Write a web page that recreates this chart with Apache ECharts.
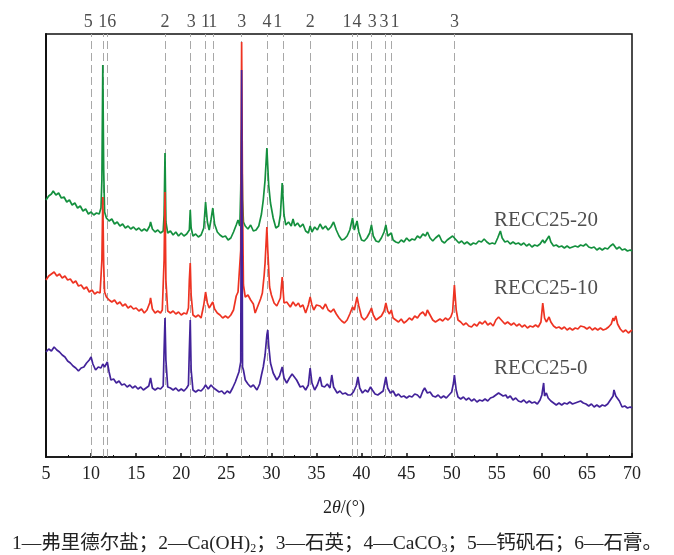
<!DOCTYPE html>
<html><head><meta charset="utf-8">
<script src="https://cdn.jsdelivr.net/npm/echarts@6/dist/echarts.min.js"></script>
<style>html,body{margin:0;padding:0;background:#fff}#c{width:674px;height:555px}</style>
</head><body><div id="c"></div>
<script>
// reference lines (2θ positions of phase peaks)
const refLines = [10.0, 11.3, 11.8, 18.2, 21.0, 22.7, 23.5, 26.7, 29.5, 31.3, 34.3, 39.0, 39.5, 41.1, 42.6, 43.3, 50.3];
// phase index labels along the top
const refLabelPos = [9.7, 11.3, 12.3, 18.2, 21.1, 22.7, 23.5, 26.7, 29.5, 30.7, 34.3, 38.4, 39.5, 41.2, 42.5, 43.7, 50.3];
const refLabelText = ['5','1','6','2','3','1','1','3','4','1','2','1','4','3','3','1','3'];
const sampleNames = ['RECC25-20', 'RECC25-10', 'RECC25-0'];
const sampleLabelPos = [[54.7, 237], [54.7, 169], [54.7, 89]];

// RECC25-20 (offset intensity, a.u.)
const recc20 = [[5.0,257],[5.3,261],[5.6,263],[5.8,266],[6.1,262],[6.4,264],[6.7,259],[7.0,260],[7.3,255],[7.6,257],[7.9,252],[8.2,254],[8.5,249],[8.8,251],[9.1,246],[9.4,248],[9.7,243],[10.0,245],[10.3,242],[10.6,244],[10.9,243],[11.1,249],[11.2,277],[11.3,392],[11.4,287],[11.5,245],[11.7,239],[12.0,236],[12.3,238],[12.6,233],[12.9,235],[13.2,231],[13.5,233],[13.8,229],[14.1,231],[14.4,228],[14.7,230],[15.0,227],[15.3,229],[15.6,226],[15.9,228],[16.2,226],[16.5,231],[16.6,235],[16.8,228],[17.1,225],[17.4,227],[17.7,224],[18.0,226],[18.1,242],[18.2,304],[18.3,235],[18.5,224],[18.8,226],[19.1,222],[19.4,225],[19.7,221],[20.0,224],[20.3,221],[20.6,223],[20.9,227],[21.0,247],[21.1,229],[21.3,221],[21.6,223],[21.9,220],[22.2,222],[22.5,229],[22.7,255],[22.9,235],[23.1,227],[23.3,237],[23.5,249],[23.7,233],[24.0,225],[24.3,222],[24.6,220],[24.9,221],[25.2,217],[25.5,219],[25.8,225],[26.1,232],[26.3,237],[26.5,231],[26.6,267],[26.7,327],[26.8,257],[26.9,235],[27.1,231],[27.4,228],[27.7,232],[28.0,226],[28.3,227],[28.6,231],[28.9,243],[29.1,257],[29.3,277],[29.5,309],[29.7,272],[29.9,254],[30.2,239],[30.5,229],[30.8,231],[31.0,242],[31.2,274],[31.4,242],[31.6,232],[31.9,235],[32.2,231],[32.4,238],[32.6,231],[32.9,234],[33.2,230],[33.5,233],[33.8,226],[34.1,224],[34.3,231],[34.5,225],[34.8,230],[35.1,227],[35.4,233],[35.7,228],[36.0,231],[36.3,227],[36.6,230],[36.9,235],[37.2,227],[37.5,221],[37.8,217],[38.1,218],[38.4,221],[38.7,227],[39.0,239],[39.2,227],[39.5,236],[39.7,225],[40.0,217],[40.3,216],[40.6,219],[40.9,224],[41.1,232],[41.3,221],[41.6,216],[41.9,215],[42.2,219],[42.5,225],[42.7,232],[42.9,221],[43.1,220],[43.3,224],[43.5,217],[43.8,215],[44.1,214],[44.4,217],[44.7,215],[45.0,219],[45.3,216],[45.6,218],[45.9,217],[46.2,221],[46.5,219],[46.8,223],[47.1,221],[47.3,225],[47.6,219],[47.9,216],[48.2,219],[48.6,222],[48.9,216],[49.2,214],[49.5,217],[49.8,219],[50.1,221],[50.3,223],[50.5,217],[50.8,214],[51.1,216],[51.4,213],[51.7,215],[52.1,212],[52.4,214],[52.7,213],[53.0,216],[53.3,215],[53.6,218],[53.9,215],[54.2,213],[54.5,214],[54.8,213],[55.1,219],[55.4,226],[55.6,219],[55.9,215],[56.2,216],[56.5,213],[56.8,215],[57.1,213],[57.4,214],[57.7,212],[58.0,214],[58.3,211],[58.6,213],[58.9,210],[59.2,212],[59.5,211],[59.8,213],[60.1,217],[60.3,214],[60.5,216],[60.8,221],[61.0,215],[61.3,211],[61.6,212],[61.9,210],[62.2,211],[62.5,209],[62.8,211],[63.1,209],[63.4,210],[63.7,211],[64.0,210],[64.3,212],[64.6,211],[64.9,213],[65.2,210],[65.5,209],[65.8,210],[66.1,207],[66.4,209],[66.7,207],[67.0,209],[67.3,208],[67.6,211],[67.9,213],[68.1,215],[68.3,208],[68.6,210],[68.9,207],[69.2,208],[69.5,206],[69.8,207],[70.0,206]];

// RECC25-10
const recc10 = [[5.0,177],[5.3,181],[5.6,183],[5.9,185],[6.2,181],[6.5,183],[6.8,179],[7.1,181],[7.4,177],[7.7,178],[8.0,174],[8.3,176],[8.6,171],[8.9,172],[9.2,168],[9.5,170],[9.8,165],[10.1,167],[10.4,163],[10.7,165],[11.0,164],[11.2,197],[11.3,260],[11.4,192],[11.5,165],[11.7,160],[12.0,157],[12.3,155],[12.6,157],[12.9,153],[13.2,155],[13.5,151],[13.8,153],[14.1,149],[14.4,151],[14.7,148],[15.0,149],[15.3,146],[15.6,148],[15.9,144],[16.2,147],[16.5,154],[16.6,159],[16.8,148],[17.1,144],[17.4,146],[17.7,144],[17.9,147],[18.1,197],[18.2,265],[18.3,177],[18.5,146],[18.8,144],[19.1,146],[19.4,143],[19.7,145],[20.0,142],[20.3,144],[20.6,143],[20.8,149],[20.9,177],[21.0,194],[21.1,162],[21.3,142],[21.6,140],[21.9,142],[22.2,139],[22.5,152],[22.7,165],[22.9,154],[23.1,149],[23.3,152],[23.5,155],[23.7,148],[24.0,144],[24.3,142],[24.6,139],[24.9,141],[25.2,139],[25.5,142],[25.8,147],[26.1,161],[26.3,165],[26.5,167],[26.6,207],[26.7,415],[26.8,257],[26.9,172],[27.1,160],[27.4,162],[27.7,157],[28.0,153],[28.2,144],[28.5,151],[28.8,158],[29.0,164],[29.2,182],[29.3,194],[29.5,230],[29.6,207],[29.8,170],[30.0,162],[30.3,154],[30.6,151],[30.8,149],[31.0,159],[31.2,180],[31.4,154],[31.7,155],[32.1,150],[32.4,155],[32.7,151],[33.0,154],[33.2,150],[33.5,152],[33.8,144],[34.1,152],[34.3,160],[34.5,152],[34.7,147],[35.0,152],[35.4,151],[35.7,148],[36.0,153],[36.3,147],[36.6,145],[36.9,148],[37.2,143],[37.5,139],[37.8,136],[38.1,134],[38.4,137],[38.7,143],[39.0,150],[39.2,147],[39.5,160],[39.7,151],[40.0,140],[40.3,137],[40.6,140],[40.9,145],[41.1,149],[41.3,142],[41.6,137],[41.9,139],[42.2,141],[42.5,146],[42.7,154],[42.9,146],[43.1,143],[43.3,147],[43.5,139],[43.8,137],[44.1,135],[44.4,138],[44.7,134],[45.0,136],[45.3,139],[45.6,137],[45.9,141],[46.2,139],[46.5,143],[46.8,145],[47.1,141],[47.3,147],[47.6,142],[47.9,137],[48.2,135],[48.4,134],[48.7,138],[49.0,136],[49.3,139],[49.6,137],[49.9,140],[50.1,145],[50.3,172],[50.5,147],[50.7,137],[51.0,135],[51.3,132],[51.6,134],[51.9,131],[52.2,130],[52.5,133],[52.8,131],[53.1,135],[53.4,133],[53.7,136],[54.0,132],[54.3,134],[54.6,131],[54.9,137],[55.2,140],[55.4,142],[55.6,136],[55.9,133],[56.2,135],[56.6,132],[56.9,134],[57.2,131],[57.5,133],[57.8,130],[58.1,132],[58.4,129],[58.7,131],[59.0,130],[59.3,132],[59.6,130],[59.9,135],[60.1,154],[60.3,139],[60.5,135],[60.8,140],[61.0,135],[61.3,131],[61.6,129],[61.9,130],[62.2,128],[62.5,130],[62.8,127],[63.1,129],[63.4,127],[63.7,129],[64.0,128],[64.3,131],[64.7,130],[65.0,128],[65.3,130],[65.6,127],[65.9,129],[66.2,127],[66.5,129],[66.8,127],[67.1,128],[67.4,130],[67.7,133],[67.9,139],[68.0,136],[68.2,141],[68.4,133],[68.7,128],[69.0,125],[69.3,127],[69.6,124],[69.8,126],[70.0,127]];

// RECC25-0
const recc0 = [[5.0,105],[5.3,108],[5.6,106],[5.9,110],[6.2,107],[6.5,105],[6.8,102],[7.1,100],[7.4,96],[7.7,94],[8.0,91],[8.3,89],[8.6,86],[8.9,89],[9.2,90],[9.5,94],[9.8,97],[10.0,100],[10.2,93],[10.5,87],[10.8,90],[11.1,89],[11.3,93],[11.5,90],[11.8,95],[12.0,85],[12.2,77],[12.5,78],[12.8,74],[13.1,76],[13.4,72],[13.7,73],[14.0,70],[14.3,72],[14.6,69],[14.9,71],[15.2,68],[15.5,70],[15.8,67],[16.1,69],[16.4,71],[16.6,79],[16.8,69],[17.1,67],[17.4,69],[17.7,68],[18.0,71],[18.1,107],[18.2,139],[18.3,97],[18.5,70],[18.8,69],[19.1,67],[19.4,69],[19.7,66],[20.0,68],[20.3,66],[20.6,69],[20.8,72],[20.9,107],[21.0,137],[21.1,87],[21.3,67],[21.6,65],[21.9,67],[22.2,66],[22.5,69],[22.7,72],[23.0,68],[23.3,72],[23.6,69],[23.9,67],[24.2,65],[24.5,66],[24.8,63],[25.1,66],[25.4,64],[25.7,69],[26.0,75],[26.2,80],[26.4,85],[26.6,95],[26.7,387],[26.8,90],[26.9,87],[27.1,77],[27.4,73],[27.7,70],[28.0,72],[28.4,67],[28.7,73],[28.9,82],[29.1,90],[29.3,102],[29.5,122],[29.6,127],[29.7,112],[29.9,94],[30.2,84],[30.6,77],[30.9,81],[31.1,87],[31.2,90],[31.4,79],[31.7,74],[32.0,79],[32.3,83],[32.5,85],[32.8,77],[33.2,70],[33.5,71],[33.8,67],[34.1,72],[34.3,89],[34.5,74],[34.8,67],[35.1,72],[35.4,80],[35.6,71],[35.9,70],[36.2,73],[36.5,69],[36.7,82],[36.9,70],[37.3,64],[37.6,66],[37.9,63],[38.2,64],[38.5,62],[38.8,62],[39.1,65],[39.4,71],[39.6,80],[39.8,69],[40.1,64],[40.4,67],[40.7,65],[41.0,70],[41.2,67],[41.5,63],[41.8,62],[42.1,64],[42.4,66],[42.7,80],[42.9,69],[43.2,64],[43.5,66],[43.8,61],[44.1,63],[44.4,60],[44.7,61],[45.0,59],[45.3,61],[45.6,60],[45.9,63],[46.2,62],[46.5,59],[46.8,66],[47.0,69],[47.3,64],[47.6,65],[47.9,61],[48.2,60],[48.5,62],[48.8,59],[49.1,61],[49.4,59],[49.7,62],[50.0,65],[50.2,74],[50.3,82],[50.5,67],[50.7,60],[51.0,58],[51.3,60],[51.6,57],[51.9,59],[52.2,56],[52.5,58],[52.8,55],[53.1,57],[53.4,56],[53.7,58],[54.0,56],[54.3,59],[54.6,60],[54.9,62],[55.2,64],[55.4,65],[55.7,61],[56.0,62],[56.2,59],[56.5,61],[56.8,57],[57.1,59],[57.4,56],[57.7,55],[58.0,57],[58.3,54],[58.6,56],[58.9,54],[59.2,55],[59.5,53],[59.8,57],[60.0,62],[60.2,74],[60.3,61],[60.5,64],[60.7,59],[61.0,56],[61.3,54],[61.6,52],[61.9,54],[62.2,52],[62.5,54],[62.8,53],[63.1,55],[63.4,53],[63.7,54],[64.0,55],[64.3,56],[64.6,54],[64.9,53],[65.2,51],[65.5,53],[65.8,50],[66.1,52],[66.4,50],[66.7,52],[67.0,51],[67.3,53],[67.6,57],[67.9,61],[68.0,67],[68.2,61],[68.4,63],[68.6,56],[68.9,50],[69.2,51],[69.5,49],[69.8,50],[70.0,49]];

const serif = '"Liberation Serif","Times New Roman","Noto Sans CJK SC",serif';
const chart = echarts.init(document.getElementById('c'), null, {renderer: 'canvas'});
const curve = (data, color, z) => ({
  type: 'line', data, z, symbol: 'none', showSymbol: false, smooth: false,
  lineStyle: {color, width: 1.7}, silent: true
});
chart.setOption({
  animation: false,
  backgroundColor: '#fff',
  title: {
    text: '1—弗里德尔盐；2—Ca(OH){sub|2}；3—石英；4—CaCO{sub|3}；5—钙矾石；6—石膏。',
    left: 'center', top: 528,
    textStyle: {
      fontFamily: serif, fontSize: 19.5, fontWeight: 'normal', color: '#222',
      rich: {sub: {fontFamily: serif, fontSize: 12, color: '#222', verticalAlign: 'bottom', padding: [10, 0, 0, 0]}}
    }
  },
  grid: {left: 46, right: 42, top: 34, bottom: 98, show: true, borderColor: '#111', borderWidth: 1.5, backgroundColor: 'transparent'},
  xAxis: {
    type: 'value', min: 5, max: 70, interval: 5,
    axisLine: {show: true, lineStyle: {color: '#111', width: 1.5}},
    axisTick: {show: true, inside: true, length: 4, lineStyle: {color: '#111', width: 1.5}},
    minorTick: {show: true, splitNumber: 2, length: 2, lineStyle: {color: '#111', width: 1}},
    splitLine: {show: false},
    axisLabel: {fontFamily: serif, fontSize: 18, color: '#222', margin: 8},
    name: '2{it|θ}/(°)', nameLocation: 'middle', nameGap: 42,
    nameTextStyle: {fontFamily: serif, fontSize: 18, color: '#222', padding: [0, 0, 0, 10],
      rich: {it: {fontFamily: serif, fontSize: 18, fontStyle: 'italic', color: '#222'}}}
  },
  yAxis: {
    type: 'value', min: 0, max: 423,
    axisLine: {show: true, lineStyle: {color: '#111', width: 2}},
    axisTick: {show: false}, axisLabel: {show: false}, splitLine: {show: false}
  },
  series: [
    {
      type: 'line', data: [], z: 1, silent: true,
      markLine: {
        z: 1, silent: true, symbol: 'none', animation: false,
        lineStyle: {type: [8, 4], color: '#a8a8a8', width: 1},
        label: {show: false},
        data: refLines.map(v => ({xAxis: v}))
      }
    },
    curve(recc20, '#14903e', 2),
    curve(recc10, '#ee3322', 3),
    curve(recc0, '#43239a', 4),
    {
      type: 'scatter', z: 5, clip: false, symbolSize: 0, silent: true,
      data: refLabelPos.map((v, i) => [v, 423, refLabelText[i]]),
      label: {show: true, position: 'top', distance: 3, formatter: p => p.value[2],
        fontFamily: serif, fontSize: 18, color: '#222'}
    },
    {
      type: 'scatter', z: 5, clip: false, symbolSize: 0, silent: true,
      data: sampleLabelPos.map((p, i) => [p[0], p[1], sampleNames[i]]),
      label: {show: true, position: 'right', distance: 0, formatter: p => p.value[2],
        fontFamily: serif, fontSize: 21, color: '#222'}
    }
  ]
});
</script>
</body></html>
